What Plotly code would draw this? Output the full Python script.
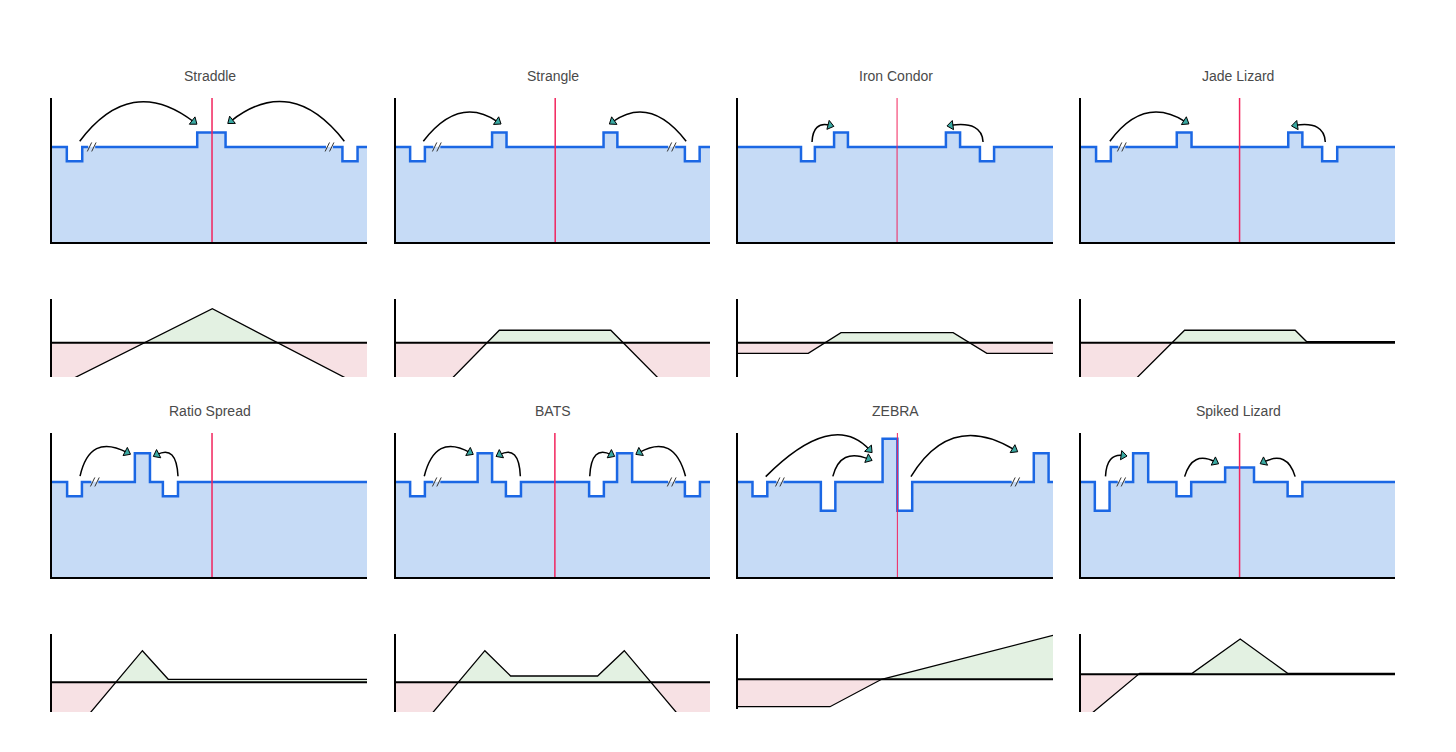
import math
import plotly.graph_objects as go

# ---------------- data ----------------
STRATEGIES = ["Straddle", "Strangle", "Iron Condor", "Jade Lizard",
              "Ratio Spread", "BATS", "ZEBRA", "Spiked Lizard"]

# option "legs" drawn on the strike ladder: start, end (strike axis 0-100), height in steps
LEG_START = {
    "Straddle": [4.7, 46.1, 92.2],
    "Strangle": [4.5, 30.6, 66.1, 92.0],
    "Iron Condor": [20.0, 30.5, 66.0, 76.8],
    "Jade Lizard": [4.8, 30.5, 66.0, 76.8],
    "Ratio Spread": [4.8, 26.3, 35.2],
    "BATS": [4.5, 26.0, 35.0, 61.5, 70.4, 92.0],
    "ZEBRA": [4.6, 26.3, 45.9, 50.6, 93.9],
    "Spiked Lizard": [4.4, 16.6, 30.4, 45.9, 65.8],
}
LEG_END = {
    "Straddle": [9.6, 55.1, 97.0],
    "Strangle": [9.2, 35.2, 70.5, 96.7],
    "Iron Condor": [24.4, 34.9, 70.5, 81.3],
    "Jade Lizard": [9.5, 35.2, 70.5, 81.6],
    "Ratio Spread": [9.5, 31.1, 40.0],
    "BATS": [9.2, 30.6, 39.8, 66.2, 75.2, 96.8],
    "ZEBRA": [9.3, 30.9, 50.6, 55.3, 98.6],
    "Spiked Lizard": [9.1, 21.4, 35.1, 55.1, 70.5],
}
LEG_STEPS = {
    "Straddle": [-1, 1, -1],
    "Strangle": [-1, 1, 1, -1],
    "Iron Condor": [-1, 1, 1, -1],
    "Jade Lizard": [-1, 1, 1, -1],
    "Ratio Spread": [-1, 2, -1],
    "BATS": [-1, 2, -1, -1, 2, -1],
    "ZEBRA": [-1, -2, 3, -2, 2],
    "Spiked Lizard": [-2, 2, -1, 1, -1],
}
SPOT = [50.8, 50.7, 50.5, 50.5, 50.8, 50.6, 50.6, 50.5]
BASE_LEVEL = 6.6

# payoff at expiry: breakpoints (strike axis) and P/L values
PAYOFF_X = {
    "Straddle": [0, 50.9, 100],
    "Strangle": [0, 32.9, 68.4, 100],
    "Iron Condor": [0, 22.3, 32.7, 68.3, 79.0, 100],
    "Jade Lizard": [0, 33.0, 68.2, 71.9, 100],
    "Ratio Spread": [0, 28.7, 36.9, 100],
    "BATS": [0, 28.3, 36.5, 64.2, 72.7, 100],
    "ZEBRA": [0, 29.2, 45.6, 100],
    "Spiked Lizard": [0, 18.7, 35.4, 50.7, 65.8, 100],
}
PAYOFF_Y = {
    "Straddle": [-4.6, 3.37, -4.6],
    "Strangle": [-9.2, 1.24, 1.24, -8.7],
    "Iron Condor": [-1.06, -1.06, 1.0, 1.0, -1.06, -1.06],
    "Jade Lizard": [-9.0, 1.24, 1.24, 0.1, 0.1],
    "Ratio Spread": [-7.6, 3.16, 0.3, 0.3],
    "BATS": [-7.4, 3.16, 0.63, 0.63, 3.16, -7.0],
    "ZEBRA": [-2.74, -2.74, 0.0, 4.39],
    "Spiked Lizard": [-4.8, 0.1, 0.1, 3.53, 0.1, 0.1],
}

# ---------------- annotation geometry ----------------
ARROWS = {
    "Straddle": [((8.8, 7.0), (25, 11.7), (45, 8.35)), ((92.8, 7.0), (76, 11.7), (56.8, 8.4))],
    "Strangle": [((8.7, 7.0), (20, 10.2), (32.4, 8.35)), ((92.4, 7.0), (81, 10.2), (69, 8.35))],
    "Iron Condor": [((23.5, 6.95), (23.8, 8.4), (29.2, 8.1)), ((77.8, 6.95), (77.5, 8.4), (67.6, 8.1))],
    "Jade Lizard": [((9.2, 7.0), (20, 10.2), (33.3, 8.35)), ((77.8, 6.95), (77.5, 8.4), (68.3, 8.1))],
    "Ratio Spread": [((8.9, 7.0), (12, 10.0), (23.8, 8.65)), ((40, 7.0), (39.5, 9.2), (33.3, 8.5))],
    "BATS": [((9.0, 7.0), (12.5, 10.0), (23.5, 8.65)), ((39.6, 7.0), (39.2, 9.2), (33, 8.5)),
             ((61.7, 7.0), (62.2, 9.2), (68.5, 8.5)), ((92.2, 7.0), (88.5, 10.0), (77.5, 8.65))],
    "ZEBRA": [((8.8, 6.97), (30, 11.6), (41.7, 8.84)), ((30.1, 6.99), (32.5, 9.0), (41.4, 8.2)),
              ((54.9, 6.97), (67.5, 11.5), (87.7, 8.84))],
    "Spiked Lizard": [((7.8, 6.99), (8.2, 8.6), (13.4, 8.44)), ((33, 6.97), (35.5, 8.8), (42.7, 7.99)),
                      ((68.2, 6.97), (65.7, 8.8), (58.2, 7.99))],
}
SLASHES = {
    "Straddle": [12.6, 88.1], "Strangle": [13, 87.8], "Iron Condor": [], "Jade Lizard": [13],
    "Ratio Spread": [13.6], "BATS": [13, 87.8], "ZEBRA": [13.3, 88], "Spiked Lizard": [12.8],
}

# ---------------- layout (window pixels) ----------------
WIN_W, WIN_H = 1456, 752
PAGE_MARGIN = 8  # default body margin of the html page
W, H = WIN_W - 2 * PAGE_MARGIN, WIN_H - 2 * PAGE_MARGIN
COL_PX = [(52, 367), (396, 710), (738, 1053), (1081, 1395)]
TOP_PX = [(98, 242), (433, 577)]
PAY_PX = [(299, 377), (299, 377), (299, 377), (299, 377),
          (634, 712), (634, 712), (634, 709), (634, 712)]
PAY_RANGE = [(-3.4, 4.34)] * 4 + [(-2.97, 4.83), (-2.97, 4.83), (-2.97, 4.53), (-3.77, 4.03)]
TITLE_Y = [76, 411]

BLUE = "#1b67e4"
BLUE_FILL = "#c6dbf6"
RED = "#f2245d"
GREEN_FILL = "#e3f1e2"
PINK_FILL = "#f7e1e4"
HEAD = "#3aa9a2"

fig = go.Figure()
shapes = []
annotations = []
layout_axes = {}


def ax_names(k):
    return ("x" if k == 1 else f"x{k}", "y" if k == 1 else f"y{k}",
            "xaxis" if k == 1 else f"xaxis{k}", "yaxis" if k == 1 else f"yaxis{k}")


def fx_(p):
    return (p - PAGE_MARGIN) / W


def fy_(p):
    return 1 - (p - PAGE_MARGIN) / H


def dom_x(c):
    a, b = COL_PX[c]
    return [fx_(a), fx_(b)]


def dom_y(top, bot):
    return [fy_(bot), fy_(top)]


base_axis = dict(showgrid=False, zeroline=False, showticklabels=False, ticks="",
                 fixedrange=True, linecolor="black", linewidth=2)

for i, name in enumerate(STRATEGIES):
    col, row = i % 4, i // 4
    cw = COL_PX[col][1] - COL_PX[col][0]
    xpu = cw / 100.0
    ypu = (TOP_PX[row][1] - TOP_PX[row][0]) / 10.0

    # ---------- top panel ----------
    k = 2 * i + 1
    xa, ya, xkey, ykey = ax_names(k)
    layout_axes[xkey] = dict(base_axis, domain=dom_x(col), range=[0, 100], anchor=ya, showline=True)
    layout_axes[ykey] = dict(base_axis, domain=dom_y(*TOP_PX[row]), range=[0, 10], anchor=xa, showline=True)

    sx, sy = [0], [BASE_LEVEL]
    for a, b, s in zip(LEG_START[name], LEG_END[name], LEG_STEPS[name]):
        lvl = BASE_LEVEL + s
        sx += [a, a, b, b]
        sy += [BASE_LEVEL, lvl, lvl, BASE_LEVEL]
    sx.append(100)
    sy.append(BASE_LEVEL)
    fig.add_trace(go.Scatter(x=sx, y=sy, mode="lines", line=dict(color=BLUE, width=2.5),
                             fill="tozeroy", fillcolor=BLUE_FILL, hoverinfo="skip",
                             showlegend=False, xaxis=xa, yaxis=ya))

    # spot line
    lw = 1.0 if name in ("Iron Condor", "ZEBRA") else 1.5
    shapes.append(dict(type="line", xref=xa, yref=ya, x0=SPOT[i], x1=SPOT[i], y0=0, y1=10,
                       line=dict(color=RED, width=lw), layer="above"))

    # arrows
    hx, hy, ang = [], [], []
    for (t, c, h) in ARROWS[name]:
        shapes.append(dict(type="path", xref=xa, yref=ya,
                           path=f"M {t[0]},{t[1]} Q {c[0]},{c[1]} {h[0]},{h[1]}",
                           line=dict(color="black", width=1.5), layer="below"))
        dx = (h[0] - c[0]) * xpu
        dy = (h[1] - c[1]) * ypu
        hx.append(h[0])
        hy.append(h[1])
        ang.append(math.degrees(math.atan2(dx, dy)))
    fig.add_trace(go.Scatter(x=hx, y=hy, mode="markers",
                             marker=dict(symbol="triangle-up", size=8, angle=ang, color=HEAD,
                                         line=dict(color="black", width=1)),
                             hoverinfo="skip", showlegend=False, xaxis=xa, yaxis=ya))

    # break marks
    for sxp in SLASHES[name]:
        gx = 3.5 / xpu
        gy = 2.0 / ypu
        shapes.append(dict(type="rect", xref=xa, yref=ya, x0=sxp - gx, x1=sxp + gx,
                           y0=BASE_LEVEL, y1=BASE_LEVEL + gy, fillcolor="white",
                           line=dict(width=0), layer="above"))
        shapes.append(dict(type="rect", xref=xa, yref=ya, x0=sxp - gx, x1=sxp + gx,
                           y0=BASE_LEVEL - gy, y1=BASE_LEVEL, fillcolor=BLUE_FILL,
                           line=dict(width=0), layer="above"))
        for off in (-2.2, 2.2):
            cx = sxp + off / xpu
            shapes.append(dict(type="line", xref=xa, yref=ya,
                               x0=cx - 2.2 / xpu, x1=cx + 2.2 / xpu,
                               y0=BASE_LEVEL - 4.5 / ypu, y1=BASE_LEVEL + 4.5 / ypu,
                               line=dict(color="#333333", width=1), layer="above"))

    annotations.append(dict(text=name, xref="paper", yref="paper",
                            x=fx_((COL_PX[col][0] + COL_PX[col][1]) / 2), y=fy_(TITLE_Y[row]),
                            xanchor="center", yanchor="middle", showarrow=False,
                            font=dict(family="Liberation Sans, Arial, sans-serif", size=14, color="#4a4a4a")))

    # ---------- payoff panel ----------
    k = 2 * i + 2
    xa, ya, xkey, ykey = ax_names(k)
    layout_axes[xkey] = dict(base_axis, domain=dom_x(col), range=[0, 100], anchor=ya, showline=False)
    layout_axes[ykey] = dict(base_axis, domain=dom_y(*PAY_PX[i]), range=list(PAY_RANGE[i]),
                             anchor=xa, showline=True)

    px_, py_ = PAYOFF_X[name], PAYOFF_Y[name]
    fxs, fys = [], []
    for j in range(len(px_) - 1):
        fxs.append(px_[j]); fys.append(py_[j])
        if py_[j] * py_[j + 1] < 0:
            xc = px_[j] + (0 - py_[j]) * (px_[j + 1] - px_[j]) / (py_[j + 1] - py_[j])
            fxs.append(xc); fys.append(0.0)
    fxs.append(px_[-1]); fys.append(py_[-1])
    fig.add_trace(go.Scatter(x=fxs, y=[max(v, 0) for v in fys], mode="lines", line=dict(width=0),
                             fill="tozeroy", fillcolor=GREEN_FILL, hoverinfo="skip",
                             showlegend=False, xaxis=xa, yaxis=ya))
    fig.add_trace(go.Scatter(x=fxs, y=[min(v, 0) for v in fys], mode="lines", line=dict(width=0),
                             fill="tozeroy", fillcolor=PINK_FILL, hoverinfo="skip",
                             showlegend=False, xaxis=xa, yaxis=ya))
    fig.add_trace(go.Scatter(x=[0, 100], y=[0, 0], mode="lines", line=dict(color="black", width=2),
                             hoverinfo="skip", showlegend=False, xaxis=xa, yaxis=ya))
    fig.add_trace(go.Scatter(x=px_, y=py_, mode="lines", line=dict(color="black", width=1.3),
                             hoverinfo="skip", showlegend=False, xaxis=xa, yaxis=ya))

fig.update_layout(width=W, height=H, margin=dict(l=0, r=0, t=0, b=0),
                  paper_bgcolor="white", plot_bgcolor="white", showlegend=False,
                  shapes=shapes, annotations=annotations, **layout_axes)
fig.write_html("out.html")
